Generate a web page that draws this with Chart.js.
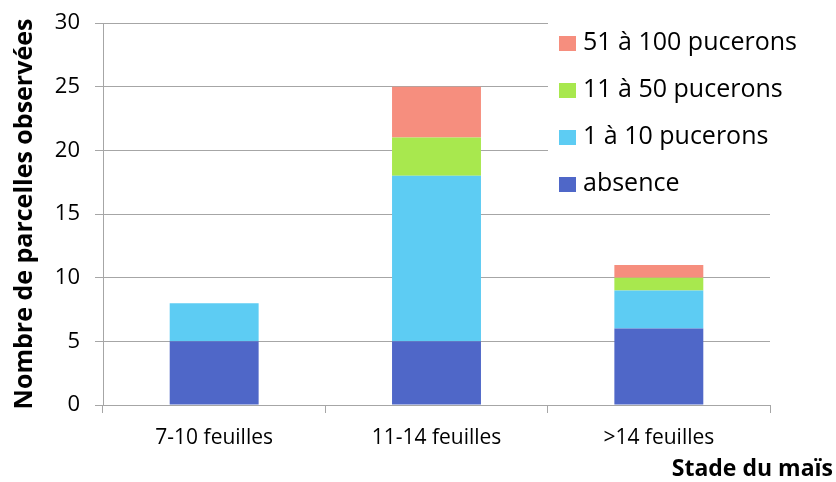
<!DOCTYPE html>
<html>
<head>
<meta charset="utf-8">
<script src="https://cdn.jsdelivr.net/npm/chart.js@4"></script>
<style>
  html, body { margin: 0; padding: 0; background: #fff; }
  #wrap { width: 836px; height: 482px; }
</style>
</head>
<body>
<div id="wrap"><canvas id="chart" width="836" height="482"></canvas></div>
<script>
// --- Data ---
const stages = ['7-10 feuilles', '11-14 feuilles', '>14 feuilles'];
const absence = [5, 5, 6];
const p1to10 = [3, 13, 3];
const p11to50 = [0, 3, 1];
const p51to100 = [0, 4, 1];
const yTicks = [0, 5, 10, 15, 20, 25, 30];

const FONT = "'Open Sans', sans-serif";

// legend + x title drawn by hand (Excel style, inside the plot)
const excelLegend = {
  id: 'excelLegend',
  afterDraw(chart) {
    const ctx = chart.ctx;
    ctx.save();
    ctx.fillStyle = '#fff';
    ctx.fillRect(548, 0, 288, 205);
    const items = chart.data.datasets.slice().reverse();
    ctx.font = '25px ' + FONT;
    ctx.textBaseline = 'middle';
    items.forEach((ds, i) => {
      const y = 43 + i * 47;
      ctx.fillStyle = ds.backgroundColor;
      ctx.fillRect(559, y - 7, 17, 15);
      ctx.fillStyle = '#000';
      ctx.fillText(ds.label, 583, y);
    });
    ctx.font = 'bold 23px ' + FONT;
    ctx.textAlign = 'right';
    ctx.fillText('Stade du maïs', 833, 469);
    ctx.restore();
  }
};

new Chart(document.getElementById('chart'), {
  type: 'bar',
  data: {
    labels: stages,
    datasets: [
      { label: 'absence', data: absence, backgroundColor: '#4F67C8' },
      { label: '1 à 10 pucerons', data: p1to10, backgroundColor: '#5DCCF3' },
      { label: '11 à 50 pucerons', data: p11to50, backgroundColor: '#A8E84E' },
      { label: '51 à 100 pucerons', data: p51to100, backgroundColor: '#F68E7E' }
    ]
  },
  options: {
    responsive: false,
    animation: false,
    layout: { padding: { top: 23, right: 66, bottom: 0, left: 0 } },
    datasets: { bar: { barPercentage: 0.4, categoryPercentage: 1, borderWidth: 0 } },
    plugins: { legend: { display: false }, tooltip: { enabled: false } },
    scales: {
      x: {
        stacked: true,
        grid: { drawOnChartArea: false, drawTicks: true, tickLength: 8, color: '#A6A6A6' },
        border: { color: '#A6A6A6' },
        ticks: { font: { family: FONT, size: 21 }, color: '#000', padding: 12 },
        afterFit(scale) { scale.height = 77; scale.paddingLeft = 0; scale.paddingRight = 0; }
      },
      y: {
        stacked: true,
        min: 0, max: 30,
        afterBuildTicks(scale) { scale.ticks = yTicks.map(v => ({ value: v })); },
        grid: { color: '#A6A6A6', tickLength: 8 },
        border: { color: '#A6A6A6' },
        ticks: { font: { family: FONT, size: 22 }, color: '#000', padding: 15 },
        title: {
          display: true,
          text: 'Nombre de parcelles observées',
          font: { family: FONT, size: 25, weight: 'bold' },
          color: '#000',
          padding: { top: 10, bottom: 0 }
        },
        afterFit(scale) { scale.width = 103; scale.paddingTop = 0; scale.paddingBottom = 0; }
      }
    }
  },
  plugins: [excelLegend]
});
</script>
</body>
</html>
